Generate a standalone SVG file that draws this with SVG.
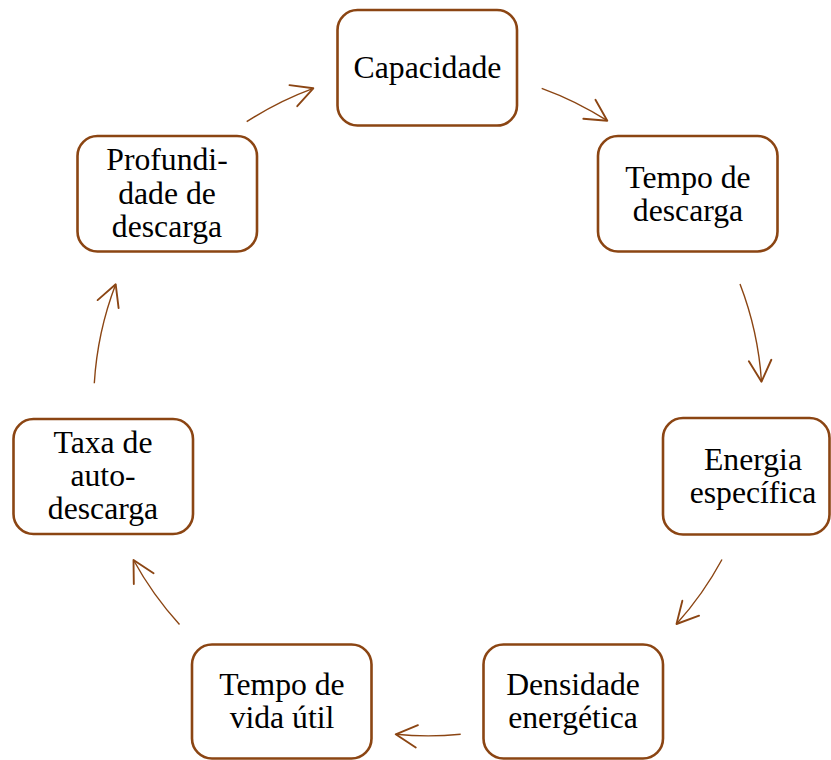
<svg xmlns="http://www.w3.org/2000/svg" width="831" height="760" viewBox="0 0 831 760">
<style>
.box{fill:#fff;stroke:#8B4513;stroke-width:2.6}
.t{font-family:"Liberation Serif","Times New Roman",serif;font-size:31.7px;fill:#000;text-anchor:middle}
.c{fill:none;stroke:#8B4513;stroke-width:1.4;marker-end:url(#ah)}
</style>
<defs>
<marker id="ah" markerUnits="userSpaceOnUse" markerWidth="30" markerHeight="30" viewBox="-20 -12 24 24" refX="0" refY="0" orient="auto">
<path d="M-17,-9 L0,0 L-17,9" fill="none" stroke="#8B4513" stroke-width="1.5" stroke-linecap="round" stroke-linejoin="round"/>
</marker>
</defs>
<rect width="831" height="760" fill="#fff"/>
<g id="connectors">
<path class="c" d="M246.7,121.7 A333,333 0 0 1 313.3,88.3"/>
<path class="c" d="M541.7,88.3 A333,333 0 0 1 607.3,120.7"/>
<path class="c" d="M740,284 A333,333 0 0 1 761.5,381.7"/>
<path class="c" d="M722,559.5 A333,333 0 0 1 676.5,624"/>
<path class="c" d="M460.7,734.3 A333,333 0 0 1 395.7,734.3"/>
<path class="c" d="M179.5,624.5 A333,333 0 0 1 133.5,560"/>
<path class="c" d="M94.3,383.3 A333,333 0 0 1 115.7,284.3"/>
</g>
<g id="capacidade">
<rect class="box" x="337.5" y="10" width="179.5" height="115.5" rx="20"/>
<text class="t" x="427.5" y="78">Capacidade</text>
</g>
<g id="tempo-descarga">
<rect class="box" x="598" y="136" width="179.5" height="115.5" rx="20"/>
<text class="t" x="688" y="187.5">Tempo de</text>
<text class="t" x="688" y="220.8">descarga</text>
</g>
<g id="energia">
<rect class="box" x="663" y="418" width="166.5" height="116.5" rx="20"/>
<text class="t" x="753" y="469.8">Energia</text>
<text class="t" x="753" y="503.1">específica</text>
</g>
<g id="densidade">
<rect class="box" x="483.5" y="644.5" width="179.5" height="114" rx="20"/>
<text class="t" x="573" y="695">Densidade</text>
<text class="t" x="573" y="728.3">energética</text>
</g>
<g id="tempo-vida">
<rect class="box" x="192" y="644.5" width="179.5" height="114" rx="20"/>
<text class="t" x="282" y="695">Tempo de</text>
<text class="t" x="282" y="728.3">vida útil</text>
</g>
<g id="taxa">
<rect class="box" x="13.5" y="419" width="179.5" height="115" rx="20"/>
<text class="t" x="103" y="452.7">Taxa de</text>
<text class="t" x="103" y="486">auto-</text>
<text class="t" x="103" y="519.3">descarga</text>
</g>
<g id="profundidade">
<rect class="box" x="77.5" y="136" width="179.5" height="115.5" rx="20"/>
<text class="t" x="167" y="170.2">Profundi-</text>
<text class="t" x="167" y="203.5">dade de</text>
<text class="t" x="167" y="236.8">descarga</text>
</g>
</svg>
